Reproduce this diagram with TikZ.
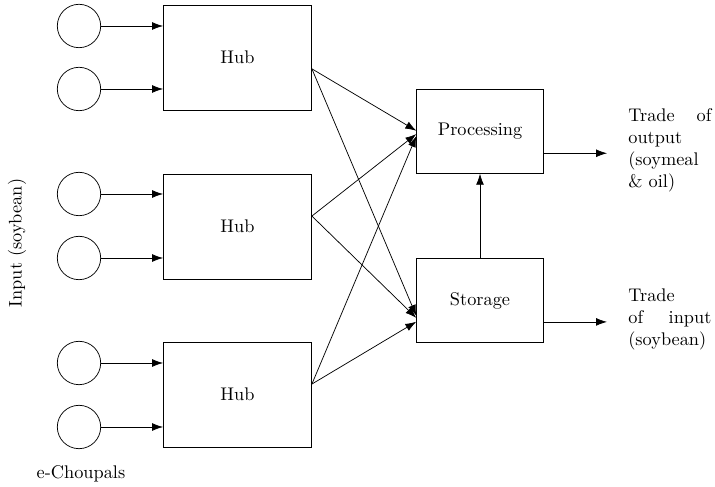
\documentclass[tikz,border=0pt]{standalone}
\usetikzlibrary{arrows.meta}
\begin{document}
\begin{tikzpicture}[x=0.5464pt,y=-0.5464pt,
  src/.style={circle,draw,minimum size=23.7pt,inner sep=0pt},
  hubbox/.style={rectangle,draw,minimum width=80.9pt,minimum height=57.4pt,inner sep=0pt},
  procbox/.style={rectangle,draw,minimum width=69.2pt,minimum height=46pt,inner sep=0pt},
  sidetext/.style={anchor=west,text width=45.4pt,align=justify,inner sep=0pt},
  arr/.style={-{Latex[length=6pt,width=4.3pt]}}]
\useasboundingbox (0,0) rectangle (715,487);

% e-Choupals
\node[src] (c1) at (79,26) {};
\node[src] (c2) at (79,89) {};
\node[src] (c3) at (79,194) {};
\node[src] (c4) at (79,258) {};
\node[src] (c5) at (79,363) {};
\node[src] (c6) at (79,427) {};

% Hubs
\node[hubbox] (h1) at (237.5,57.5) {Hub};
\node[hubbox] (h2) at (237.5,226.5) {Hub};
\node[hubbox] (h3) at (237.5,394.5) {Hub};

% Processing and Storage
\node[procbox] (p) at (480,131.3) {Processing};
\node[procbox] (s) at (480,300.5) {Storage};

% circles to hubs
\draw[arr] (c1) -- (c1 -| h1.west);
\draw[arr] (c2) -- (c2 -| h1.west);
\draw[arr] (c3) -- (c3 -| h2.west);
\draw[arr] (c4) -- (c4 -| h2.west);
\draw[arr] (c5) -- (c5 -| h3.west);
\draw[arr] (c6) -- (c6 -| h3.west);

% start points on hubs
\coordinate (s1) at ([yshift=-6.2pt]h1.east);
\coordinate (s2) at ([yshift=5.7pt]h2.east);
\coordinate (s3) at ([yshift=5.7pt]h3.east);
% end points
\coordinate (p1) at ([yshift=0.3pt]p.west);
\coordinate (p2) at ([yshift=-1.5pt]p.west);
\coordinate (p3) at ([yshift=-2.6pt]p.west);
\coordinate (q1) at ([yshift=-8.4pt]s.west);
\coordinate (q2) at ([yshift=-9.5pt]s.west);
\coordinate (q3) at ([yshift=-11.6pt]s.west);

\draw[arr] (s1) -- (p1);
\draw[arr] (s1) -- (q1);
\draw[arr] (s2) -- (p2);
\draw[arr] (s2) -- (q2);
\draw[arr] (s3) -- (p3);
\draw[arr] (s3) -- (q3);

% storage to processing
\draw[arr] (s) -- (p);

% outputs
\coordinate (po) at ([yshift=-12pt]p.east);
\coordinate (so) at ([yshift=-11.7pt]s.east);
\coordinate (pe) at (607,153);
\coordinate (se) at (607,322);
\draw[arr] (po) -- (po -| pe);
\draw[arr] (so) -- (so -| se);

\node[sidetext] (t1) at (628,150) {Trade of\linebreak output\linebreak (soymeal\linebreak \& oil)};
\node[sidetext] (t2) at (628,319) {Trade\linebreak of input\linebreak (soybean)};

\node[rotate=90] (inp) at (17,243) {Input (soybean)};
\node (ech) at (81,474) {e-Choupals};
\end{tikzpicture}
\end{document}
